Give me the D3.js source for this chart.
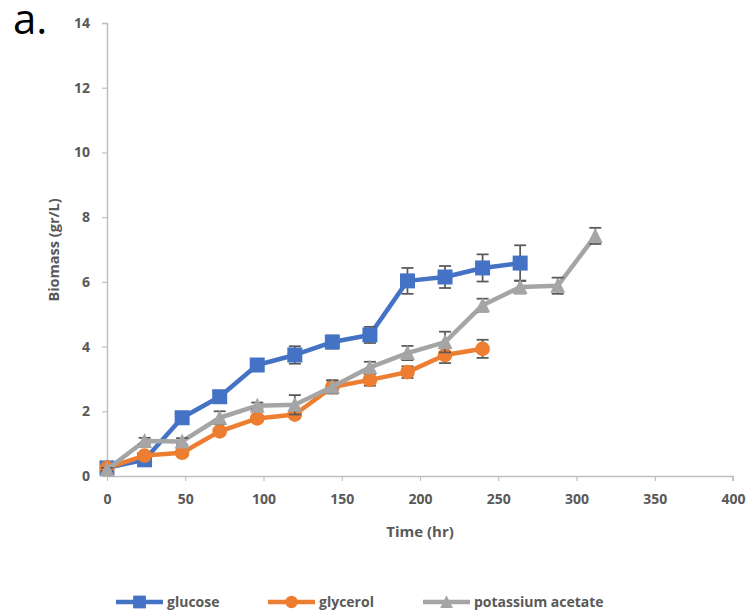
<!DOCTYPE html>
<html>
<head>
<meta charset="utf-8">
<script src="https://cdnjs.cloudflare.com/ajax/libs/d3/7.8.5/d3.min.js"></script>
<style>
  body { margin: 0; background: #fff; }
  svg { font-family: 'Open Sans', 'Liberation Sans', sans-serif; }
</style>
</head>
<body>
<svg id="chart" width="751" height="616"></svg>
<script>
// time points (hr)
var times = [0, 24, 48, 72, 96, 120, 144, 168, 192, 216, 240, 264, 288, 312];

var glucose    = [0.25, 0.5, 1.8, 2.45, 3.43, 3.74, 4.14, 4.36, 6.03, 6.15, 6.43, 6.58];
var glucoseErr = [0.05, 0.05, 0.05, 0.05, 0.08, 0.27, 0.2, 0.25, 0.4, 0.34, 0.42, 0.55];

var glycerol    = [0.25, 0.63, 0.72, 1.38, 1.78, 1.9, 2.75, 2.97, 3.21, 3.74, 3.93];
var glycerolErr = [0.05, 0.05, 0.05, 0.1, 0.1, 0.1, 0.2, 0.18, 0.18, 0.25, 0.28];

var acetate    = [0.2, 1.08, 1.07, 1.8, 2.17, 2.2, 2.76, 3.36, 3.8, 4.14, 5.28, 5.84, 5.88, 7.42];
var acetateErr = [0.05, 0.1, 0.1, 0.2, 0.1, 0.3, 0.2, 0.17, 0.22, 0.32, 0.2, 0.2, 0.25, 0.25];

var xTicks = [0, 50, 100, 150, 200, 250, 300, 350, 400];
var yTicks = [0, 2, 4, 6, 8, 10, 12, 14];

var seriesNames = ["glucose", "glycerol", "potassium acetate"];

var svg = d3.select('#chart');

var x = d3.scaleLinear().domain([0, 400]).range([107, 733]);
var y = d3.scaleLinear().domain([0, 14]).range([476, 23]);

var series = [
  { name: seriesNames[0], vals: glucose, err: glucoseErr, color: "#4472C4", marker: "square" },
  { name: seriesNames[1], vals: glycerol, err: glycerolErr, color: "#ED7D31", marker: "circle" },
  { name: seriesNames[2], vals: acetate, err: acetateErr, color: "#A5A5A5", marker: "triangle" }
];

// Excel-like markers, about 15px across
var symbols = {
  square: "M-7.5,-7.5H7.5V7.5H-7.5Z",
  circle: d3.symbol().type(d3.symbolCircle).size(170)(),
  triangle: "M0,-8L7.5,7L-7.5,7Z"
};

//Axes
var yAxis = d3.axisLeft(y).tickValues(yTicks).tickSize(5).tickPadding(12);
var xAxis = d3.axisBottom(x).tickValues(xTicks).tickSize(5).tickPadding(13);

var gy = svg.append('g').attr('transform', 'translate(107,0)').call(yAxis);
var gx = svg.append('g').attr('transform', 'translate(0,476)').call(xAxis);

[gx, gy].forEach(function(g){
  g.select('.domain').attr('stroke', '#BFBFBF').attr('stroke-width', 1.5);
  g.selectAll('.tick line').attr('stroke', '#BFBFBF').attr('stroke-width', 1.2);
  g.selectAll('.tick text')
    .attr('fill', '#595959')
    .style('font-size', '14px')
    .style('font-weight', 'bold')
    .style('font-family', "'Open Sans', sans-serif");
});
gx.select('.domain').attr('d', 'M107,0.5H733V5');
gy.select('.domain').attr('d', 'M-5,23.5H0.5V476');

//Axis titles
svg.append('text')
  .attr('x', 420).attr('y', 537)
  .attr('text-anchor', 'middle')
  .attr('fill', '#595959')
  .style('font-size', '15px').style('font-weight', 'bold')
  .text('Time (hr)');

svg.append('text')
  .attr('transform', 'translate(59,250) rotate(-90)')
  .attr('text-anchor', 'middle')
  .attr('fill', '#595959')
  .style('font-size', '14.5px').style('font-weight', 'bold')
  .text('Biomass (gr/L)');

svg.append('text')
  .attr('x', 13).attr('y', 34)
  .attr('fill', '#000')
  .style('font-size', '42px')
  .style('font-family', "'Open Sans', sans-serif")
  .text('a.');

//Series
var line = d3.line()
  .x(function(d){ return x(d.t); })
  .y(function(d){ return y(d.v); });

series.forEach(function(s){
  var pts = s.vals.map(function(v, i){ return { t: times[i], v: v, e: s.err[i] }; });
  var g = svg.append('g');

  g.append('path')
    .datum(pts)
    .attr('d', line)
    .attr('fill', 'none')
    .attr('stroke', s.color)
    .attr('stroke-width', 4.5)
    .attr('stroke-linejoin', 'round');

  var eb = g.selectAll('.err').data(pts).enter().append('g').classed('err', true);
  eb.append('line')
    .attr('x1', function(d){ return x(d.t); })
    .attr('x2', function(d){ return x(d.t); })
    .attr('y1', function(d){ return y(d.v + d.e); })
    .attr('y2', function(d){ return y(d.v - d.e); });
  eb.append('line')
    .attr('x1', function(d){ return x(d.t) - 6; })
    .attr('x2', function(d){ return x(d.t) + 6; })
    .attr('y1', function(d){ return y(d.v + d.e); })
    .attr('y2', function(d){ return y(d.v + d.e); });
  eb.append('line')
    .attr('x1', function(d){ return x(d.t) - 6; })
    .attr('x2', function(d){ return x(d.t) + 6; })
    .attr('y1', function(d){ return y(d.v - d.e); })
    .attr('y2', function(d){ return y(d.v - d.e); });
  eb.selectAll('line').attr('stroke', '#595959').attr('stroke-width', 1.75);

  g.selectAll('.mk').data(pts).enter().append('path')
    .classed('mk', true)
    .attr('d', symbols[s.marker])
    .attr('transform', function(d){ return 'translate(' + x(d.t) + ',' + y(d.v) + ')'; })
    .attr('fill', s.color);
});

//Legend
var legendX = [116, 268, 423];
var leg = svg.append('g').attr('transform', 'translate(0,602)');
series.forEach(function(s, i){
  var lg = leg.append('g').attr('transform', 'translate(' + legendX[i] + ',0)');
  lg.append('line')
    .attr('x1', 0).attr('x2', 47)
    .attr('stroke', s.color).attr('stroke-width', 4.5);
  lg.append('path')
    .attr('d', symbols[s.marker])
    .attr('transform', 'translate(23.5,0) scale(0.85)')
    .attr('fill', s.color);
  lg.append('text')
    .attr('x', 51).attr('y', 5)
    .attr('fill', '#595959')
    .style('font-size', '14px').style('font-weight', 'bold')
    .text(s.name);
});
</script>
</body>
</html>
